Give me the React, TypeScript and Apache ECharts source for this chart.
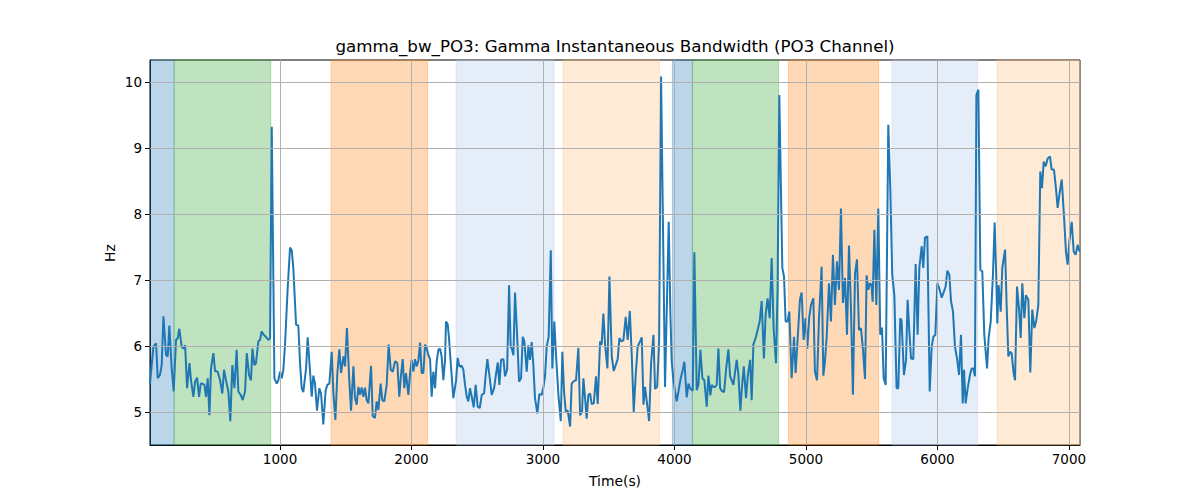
import React, { useEffect, useRef } from "react";
import * as echarts from "echarts";

const time = [
  11, 37, 57, 70, 87, 100, 113, 133, 146, 158, 176, 191, 209, 222, 234, 252, 265, 278, 293, 311, 323, 341, 354, 369, 384, 397, 409, 425, 437, 450, 463, 475, 493, 506, 526, 544, 561, 574, 589, 607, 622, 637, 653, 670, 683, 701, 716, 734, 747, 764, 779, 790, 805, 817, 835, 848, 860, 876, 891, 911, 924, 937, 957, 975, 987, 1000, 1013, 1025, 1038, 1058, 1076, 1089, 1101, 1122, 1139, 1152, 1165, 1177,
  1198, 1210, 1223, 1241, 1253, 1266, 1281, 1299, 1312, 1329, 1347, 1360, 1375, 1393, 1406, 1421, 1436, 1451, 1464, 1482, 1494, 1509, 1525, 1540, 1558, 1570, 1583, 1596, 1608, 1621, 1634, 1646, 1659, 1672, 1692, 1705, 1722, 1735, 1748, 1765, 1778, 1793, 1811, 1826, 1842, 1857, 1875, 1892, 1907, 1920, 1933, 1945, 1958, 1976, 1989, 2001, 2014, 2027, 2039, 2052, 2065, 2077, 2090, 2103, 2115, 2128, 2141, 2153, 2166, 2179, 2191, 2204, 2217, 2229, 2242, 2255, 2262, 2275, 2285, 2300, 2318,
  2339, 2351, 2364, 2382, 2394, 2407, 2420, 2432, 2445, 2458, 2473, 2488, 2503, 2519, 2534, 2552, 2564, 2577, 2592, 2610, 2628, 2640, 2656, 2668, 2681, 2699, 2711, 2727, 2742, 2754, 2762, 2775, 2787, 2800, 2818, 2833, 2846, 2858, 2876, 2889, 2901, 2914, 2927, 2939, 2957, 2972, 2990, 3003, 3016, 3028, 3043, 3059, 3071, 3086, 3099, 3117, 3135, 3147, 3160, 3173, 3188, 3206, 3218, 3236, 3251, 3269, 3282, 3297, 3307, 3320, 3332, 3345, 3358, 3370, 3386, 3403, 3416, 3434, 3446, 3459,
  3472, 3490, 3505, 3523, 3538, 3553, 3568, 3581, 3594, 3611, 3629, 3644, 3660, 3675, 3690, 3705, 3720, 3738, 3751, 3764, 3776, 3789, 3807, 3822, 3840, 3852, 3868, 3883, 3898, 3928, 3956, 3969, 3979, 3992, 4004, 4017, 4030, 4047, 4063, 4075, 4093, 4106, 4118, 4131, 4139, 4151, 4169, 4182, 4197, 4212, 4227, 4245, 4258, 4273, 4283, 4296, 4309, 4321, 4334, 4347, 4359, 4377, 4392, 4410, 4423, 4435, 4448, 4461, 4473, 4486, 4501, 4511, 4527, 4544, 4557, 4575, 4587, 4600,
  4620, 4632, 4648, 4663, 4680, 4693, 4708, 4724, 4739, 4754, 4772, 4784, 4797, 4820, 4833, 4845, 4860, 4873, 4891, 4909, 4921, 4937, 4954, 4967, 4982, 4997, 5010, 5025, 5038, 5056, 5068, 5084, 5099, 5119, 5132, 5144, 5157, 5175, 5190, 5205, 5220, 5236, 5251, 5266, 5281, 5297, 5312, 5327, 5342, 5357, 5373, 5388, 5403, 5418, 5433, 5449, 5461, 5474, 5487, 5499, 5507, 5520, 5535, 5550, 5565, 5578, 5591, 5606, 5626, 5641, 5656, 5672, 5689, 5702, 5717, 5727,
  5745, 5761, 5773, 5786, 5799, 5816, 5834, 5849, 5862, 5880, 5892, 5905, 5923, 5941, 5956, 5969, 5984, 5999, 6014, 6032, 6047, 6062, 6075, 6090, 6103, 6118, 6133, 6149, 6164, 6179, 6192, 6202, 6214, 6230, 6247, 6260, 6273, 6285, 6296, 6311, 6326, 6341, 6356, 6377, 6389, 6405, 6422, 6435, 6448, 6455, 6465, 6481, 6493, 6514, 6526, 6539, 6552, 6564, 6579, 6590, 6605, 6620, 6633, 6645, 6661, 6673, 6691, 6706, 6721, 6737, 6752, 6767, 6782, 6795, 6808, 6823, 6838, 6856, 6868, 6886, 6901, 6914, 6927, 6945, 6962, 6977, 6990, 7003, 7021, 7036, 7051, 7066, 7081,
];

const bandwidth = [
  5.43, 5.99, 6.04, 5.51, 5.56, 5.71, 6.45, 5.86, 5.84, 6.31, 5.66, 5.31, 6.09, 6.12, 6.26, 5.99, 5.96, 6.01, 5.36, 5.74, 5.48, 5.23, 5.46, 5.52, 5.23, 5.43, 5.43, 5.41, 5.23, 5.51, 4.95, 5.66, 5.89, 5.62, 5.61, 5.48, 5.28, 5.64, 5.48, 5.31, 4.86, 5.71, 5.36, 5.94, 5.31, 5.26, 5.18, 5.31, 5.89, 5.56, 5.48, 5.96, 5.71, 5.74, 6.07, 6.09, 6.22, 6.17, 6.14, 6.09, 6.12, 9.32, 5.51, 5.43, 5.48, 5.61, 5.51, 5.64, 6.02, 6.87, 7.49, 7.45, 7.18, 6.32, 6.31, 5.74, 5.36, 5.30,
  5.66, 6.13, 5.76, 5.23, 5.55, 5.43, 5.02, 5.36, 5.28, 4.81, 5.33, 5.41, 5.43, 5.91, 5.28, 4.88, 5.59, 5.95, 5.59, 5.84, 5.69, 6.27, 5.54, 5.02, 5.69, 5.21, 5.11, 5.38, 5.26, 5.37, 5.23, 5.37, 5.18, 5.13, 5.70, 4.94, 4.91, 5.16, 5.03, 5.43, 5.18, 5.16, 5.41, 6.02, 5.64, 5.61, 5.77, 5.74, 5.23, 5.56, 5.80, 5.36, 5.59, 5.26, 5.59, 5.79, 5.61, 5.80, 5.69, 5.77, 6.05, 5.59, 5.59, 6.02, 5.97, 5.86, 5.80, 5.23, 5.61, 5.36, 5.76, 5.94, 5.96, 5.84, 5.48, 5.79, 6.37, 6.33, 6.12, 5.69, 5.21,
  5.48, 5.82, 5.69, 5.70, 5.64, 5.41, 5.23, 5.16, 5.36, 5.23, 5.07, 5.41, 5.08, 5.06, 5.26, 5.28, 5.56, 5.80, 5.56, 5.26, 5.36, 5.54, 5.75, 5.41, 5.79, 5.80, 5.54, 5.64, 6.92, 5.99, 5.96, 5.86, 6.81, 6.29, 5.46, 5.51, 6.14, 6.07, 5.61, 6.01, 5.79, 6.06, 5.69, 5.21, 4.98, 5.27, 5.26, 5.37, 5.56, 5.99, 6.14, 7.45, 5.66, 6.37, 5.86, 5.26, 4.86, 5.91, 5.31, 5.01, 5.02, 4.78, 5.43, 5.47, 5.48, 5.97, 4.95, 5.01, 5.51, 5.21, 4.90, 5.26, 5.28, 5.12, 5.13, 5.54, 5.12, 6.07, 6.02, 6.49,
  6.02, 5.66, 7.05, 5.84, 5.62, 5.71, 5.80, 6.12, 6.07, 6.08, 6.44, 6.09, 6.53, 5.86, 5.00, 5.56, 5.99, 6.07, 6.13, 5.11, 5.38, 5.16, 4.86, 5.74, 6.17, 5.35, 5.38, 6.07, 10.08, 5.38, 7.88, 6.47, 5.76, 5.48, 5.31, 5.16, 5.31, 5.51, 5.64, 5.76, 5.22, 5.43, 5.36, 5.33, 5.33, 7.42, 5.33, 5.41, 5.94, 5.51, 5.48, 5.08, 5.55, 5.25, 5.41, 5.38, 5.38, 5.41, 5.96, 5.36, 5.32, 5.30, 5.64, 5.95, 5.54, 5.48, 5.41, 5.61, 5.79, 5.57, 5.02, 5.33, 5.69, 5.21, 5.54, 5.79, 5.18, 6.02,
  6.14, 6.24, 6.37, 6.68, 5.81, 6.47, 6.72, 6.42, 7.33, 6.27, 5.74, 6.87, 9.80, 7.18, 7.05, 6.37, 6.37, 6.52, 5.51, 6.14, 5.59, 6.12, 6.70, 6.81, 6.09, 6.42, 5.96, 6.44, 6.62, 6.72, 5.61, 5.48, 6.42, 7.20, 5.55, 5.76, 6.12, 6.95, 6.37, 7.38, 6.62, 7.28, 6.85, 8.08, 6.65, 7.03, 6.17, 7.52, 6.57, 5.26, 7.10, 7.31, 6.24, 6.27, 5.96, 5.50, 7.07, 6.85, 6.95, 6.92, 6.67, 7.76, 6.62, 8.08, 6.17, 6.28, 5.51, 5.41, 9.35, 8.39, 7.08, 6.77, 5.36, 5.36, 6.42, 6.39,
  5.56, 5.79, 6.70, 6.22, 5.81, 5.80, 7.24, 6.17, 7.18, 7.51, 7.18, 7.64, 7.66, 5.31, 5.99, 6.14, 6.17, 6.95, 6.87, 6.73, 6.81, 6.90, 7.14, 7.08, 6.68, 6.52, 5.99, 5.81, 5.56, 6.17, 5.13, 5.64, 5.13, 5.36, 5.56, 5.66, 5.66, 5.54, 9.80, 9.88, 7.15, 7.13, 6.17, 5.66, 6.12, 6.37, 7.08, 7.87, 6.97, 6.34, 6.92, 6.52, 7.18, 7.46, 6.62, 5.84, 5.91, 5.89, 5.59, 5.48, 6.90, 6.57, 6.12, 6.95, 6.42, 6.77, 6.70, 5.60, 6.55, 6.27, 6.39, 6.62, 8.64, 8.39, 8.79, 8.72, 8.84, 8.87, 8.67, 8.67, 8.39, 8.09, 8.29, 8.52, 7.98, 7.43, 7.23, 7.58, 7.88, 7.43, 7.38, 7.53, 7.43,
];

const spanStart = [11, 194, 1388, 2339, 3152, 3984, 4136, 4866, 5654, 6453];
const spanEnd = [194, 929, 2123, 3084, 3887, 4136, 4792, 5553, 6306, 7084];
const spanKind = ["blue", "green", "orange", "lightblue", "lightorange", "blue", "green", "orange", "lightblue", "lightorange"];

const xTicks = [1000, 2000, 3000, 4000, 5000, 6000, 7000];
const yTicks = [5, 6, 7, 8, 9, 10];

const X_MIN = 11;
const X_MAX = 7084;
const Y_MIN = 4.5;
const Y_MAX = 10.33;

const spanColors: Record<string, string> = {
  blue: "rgba(31,119,180,0.3)",
  green: "rgba(44,160,44,0.3)",
  orange: "rgba(255,127,14,0.3)",
  lightblue: "rgba(174,199,232,0.32)",
  lightorange: "rgba(255,187,120,0.3)",
};

const FONT = "DejaVu Sans";

export default function App() {
  const ref = useRef<HTMLDivElement>(null);

  useEffect(() => {
    if (!ref.current) return;
    const chart = echarts.init(ref.current, undefined, { renderer: "svg" });

    const lineData = time.map((t, i) => [t, bandwidth[i]]);
    const areas = spanStart.map((s, i) => [
      {
        xAxis: s,
        itemStyle: {
          color: spanColors[spanKind[i]],
          borderColor: spanColors[spanKind[i]],
          borderWidth: 1,
        },
      },
      { xAxis: spanEnd[i] },
    ]);
    const gridLines = [
      ...xTicks.map((v) => ({ xAxis: v })),
      ...yTicks.map((v) => ({ yAxis: v })),
    ];

    chart.setOption({
      animation: false,
      backgroundColor: "#ffffff",
      grid: {
        left: 150,
        top: 60,
        width: 930,
        height: 385,
        show: true,
        borderColor: "#000000",
        borderWidth: 1,
        backgroundColor: "transparent",
      },
      xAxis: {
        type: "value",
        min: X_MIN,
        max: X_MAX,
        splitLine: { show: false },
        axisLine: { show: true, onZero: false, lineStyle: { color: "#000", width: 1 } },
        axisTick: {
          show: true,
          customValues: xTicks,
          length: 5,
          inside: false,
          lineStyle: { color: "#000", width: 1 },
        },
        axisLabel: {
          customValues: xTicks,
          color: "#000",
          fontSize: 13.5,
          fontFamily: FONT,
          margin: 7,
          formatter: (v: number) => String(v),
        },
      },
      yAxis: {
        type: "value",
        min: Y_MIN,
        max: Y_MAX,
        splitLine: { show: false },
        axisLine: { show: true, onZero: false, lineStyle: { color: "#000", width: 1 } },
        axisTick: {
          show: true,
          customValues: yTicks,
          length: 5,
          inside: false,
          lineStyle: { color: "#000", width: 1 },
        },
        axisLabel: {
          customValues: yTicks,
          color: "#000",
          fontSize: 13.5,
          fontFamily: FONT,
          margin: 8,
          formatter: (v: number) => String(v),
        },
      },
      series: [
        {
          type: "line",
          data: [],
          z: 1,
          silent: true,
          markArea: { silent: true, data: areas },
        },
        {
          type: "line",
          data: [],
          z: 2,
          silent: true,
          markLine: {
            silent: true,
            symbol: ["none", "none"],
            label: { show: false },
            lineStyle: { color: "#b0b0b0", width: 1, type: "solid" },
            emphasis: { disabled: true },
            data: gridLines,
          },
        },
        {
          type: "line",
          data: lineData,
          z: 3,
          showSymbol: false,
          clip: true,
          lineStyle: { color: "#1f77b4", width: 2 },
          itemStyle: { color: "#1f77b4" },
        },
      ],
      graphic: [
        {
          type: "text",
          x: 615,
          y: 46,
          style: {
            text: "gamma_bw_PO3: Gamma Instantaneous Bandwidth (PO3 Channel)",
            fontSize: 16.7,
            fontFamily: FONT,
            fill: "#000",
            textAlign: "center",
            textVerticalAlign: "middle",
          },
        },
        {
          type: "text",
          x: 615,
          y: 481,
          style: {
            text: "Time(s)",
            fontSize: 13.9,
            fontFamily: FONT,
            fill: "#000",
            textAlign: "center",
            textVerticalAlign: "middle",
          },
        },
        {
          type: "text",
          x: 110,
          y: 253,
          rotation: Math.PI / 2,
          style: {
            text: "Hz",
            fontSize: 13.9,
            fontFamily: FONT,
            fill: "#000",
            textAlign: "center",
            textVerticalAlign: "middle",
          },
        },
      ],
    });

    return () => chart.dispose();
  }, []);

  return (
    <div
      ref={ref}
      style={{ position: "fixed", left: 0, top: 0, width: 1200, height: 500, background: "#fff" }}
    />
  );
}
